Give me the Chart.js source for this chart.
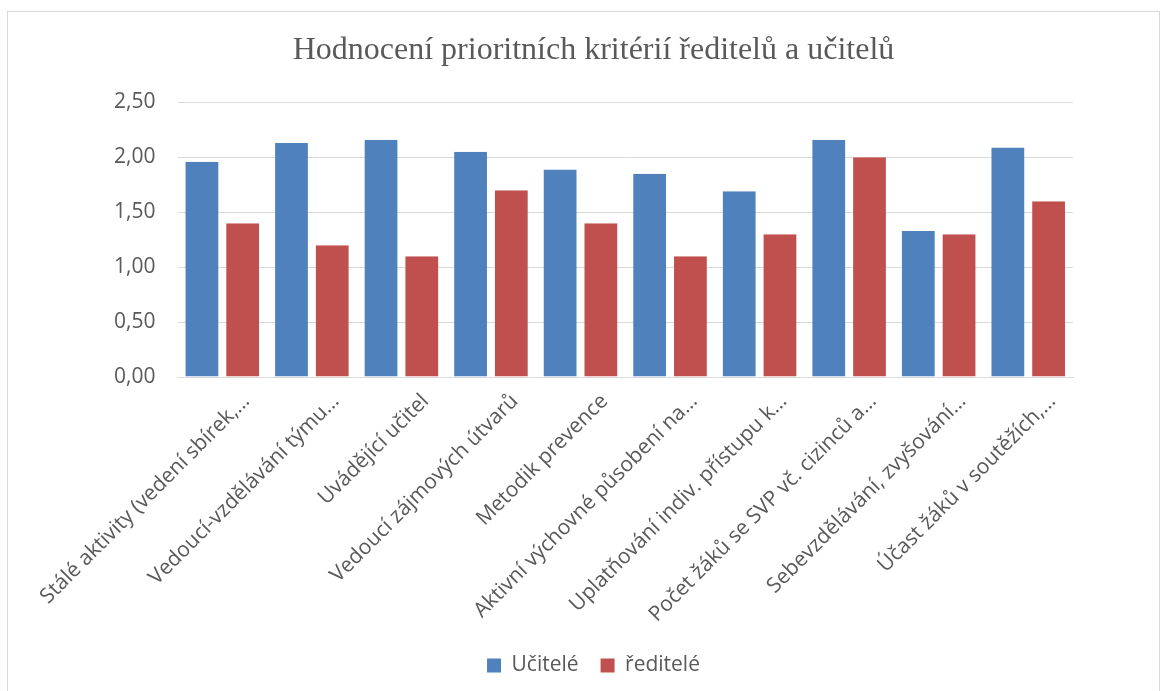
<!DOCTYPE html>
<html>
<head>
<meta charset="utf-8">
<script src="https://cdn.jsdelivr.net/npm/chart.js@4/dist/chart.umd.min.js"></script>
<style>
  html, body { margin: 0; padding: 0; background: #fff; overflow: hidden; }
  #wrap { position: absolute; left: 7px; top: 11px; width: 1153px; height: 690px;
          border: 1px solid #d9d9d9; box-sizing: border-box; }
</style>
</head>
<body>
<div id="wrap"><canvas id="chart"></canvas></div>
<script>
// kategorie a hodnoty
var categories = [
  "Stálé aktivity (vedení sbírek,…",
  "Vedoucí-vzdělávání týmu…",
  "Uvádějící učitel",
  "Vedoucí zájmových útvarů",
  "Metodik prevence",
  "Aktivní výchovné působení na…",
  "Uplatňování indiv. přístupu k…",
  "Počet žáků se SVP vč. cizinců a…",
  "Sebevzdělávání, zvyšování…",
  "Účast žáků v soutěžích,…"
];
var ucitele = [1.96, 2.13, 2.16, 2.05, 1.89, 1.85, 1.69, 2.16, 1.33, 2.09];
var reditele = [1.40, 1.20, 1.10, 1.70, 1.40, 1.10, 1.30, 2.00, 1.30, 1.60];
var yTicks = [0, 0.5, 1, 1.5, 2, 2.5];

var textColor = '#595959';
var gridColor = '#d9d9d9';
var sans = '"Open Sans", sans-serif';

var ctx = document.getElementById('chart').getContext('2d');
new Chart(ctx, {
  type: 'bar',
  data: {
    labels: categories,
    datasets: [
      {
        label: 'Učitelé',
        data: ucitele,
        backgroundColor: '#4f81bd',
        borderColor: 'rgba(0,0,0,0)',
        borderWidth: { left: 4, right: 4, top: 0, bottom: 0 },
        categoryPercentage: 0.91,
        barPercentage: 1
      },
      {
        label: 'ředitelé',
        data: reditele,
        backgroundColor: '#c0504d',
        borderColor: 'rgba(0,0,0,0)',
        borderWidth: { left: 4, right: 4, top: 0, bottom: 0 },
        categoryPercentage: 0.91,
        barPercentage: 1
      }
    ]
  },
  options: {
    responsive: true,
    maintainAspectRatio: false,
    animation: false,
    layout: { padding: { left: 20, right: 0, top: 0, bottom: 14 } },
    plugins: {
      title: {
        display: true,
        text: 'Hodnocení prioritních kritérií ředitelů a učitelů',
        color: textColor,
        font: { family: '"Liberation Serif", "Times New Roman", serif', size: 32, weight: 'normal' },
        padding: { top: 19, bottom: 33 }
      },
      legend: {
        position: 'bottom',
        labels: {
          color: textColor,
          font: { family: sans, size: 21 },
          boxWidth: 14,
          boxHeight: 14,
          padding: 22
        }
      },
      tooltip: { enabled: false }
    },
    scales: {
      x: {
        grid: { display: false },
        border: { color: gridColor, width: 1 },
        ticks: {
          color: textColor,
          font: { family: sans, size: 21 },
          minRotation: 45,
          maxRotation: 45,
          autoSkip: false,
          labelOffset: 24,
          padding: 4
        },
        afterFit: function (s) { s.height = 256; }
      },
      y: {
        min: 0,
        max: 2.5,
        afterBuildTicks: function (s) { s.ticks = yTicks.map(function (v) { return { value: v }; }); },
        grid: { color: gridColor, lineWidth: 1, drawTicks: false },
        border: { display: false },
        ticks: {
          color: textColor,
          font: { family: sans, size: 21 },
          padding: 22,
          callback: function (v) { return v.toFixed(2).replace('.', ','); }
        },
        afterFit: function (s) { s.width = 141; }
      },
      // prázdná osa vpravo jen kvůli okraji
      yRight: {
        type: 'linear',
        axis: 'y',
        position: 'right',
        grid: { display: false },
        border: { display: false },
        ticks: { display: false },
        afterFit: function (s) { s.width = 86; }
      }
    }
  }
});
</script>
</body>
</html>
